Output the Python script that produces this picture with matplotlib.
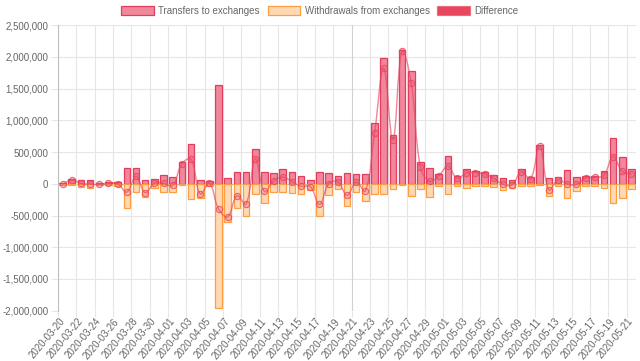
import numpy as np
import matplotlib.pyplot as plt
import pandas as pd
from matplotlib.path import Path
from matplotlib.patches import PathPatch, Patch
from matplotlib.ticker import FuncFormatter

plt.rcParams['font.family'] = ['Liberation Sans', 'DejaVu Sans']

# daily categories
dates = pd.date_range('2020-03-20', '2020-05-21').strftime('%Y-%m-%d').tolist()

transfers = [15000, 80000, 55000, 55000, 15000, 25000, 35000, 245000, 245000, 63000,
             79000, 135000, 105000, 340000, 625000, 60000, 50000, 1565000, 85000, 190000,
             180000, 548000, 180000, 165000, 235000, 180000, 120000, 60000, 190000, 165000,
             120000, 165000, 150000, 160000, 960000, 1980000, 775000, 2110000, 1775000, 345000,
             250000, 160000, 435000, 125000, 230000, 205000, 185000, 140000, 95000, 55000,
             230000, 115000, 615000, 90000, 100000, 220000, 105000, 130000, 130000, 205000,
             730000, 420000, 235000]

withdrawals = [-20000, -20000, -50000, -60000, -25000, -20000, -35000, -375000, -125000, -205000,
               -68000, -130000, -130000, -25000, -240000, -220000, -40000, -1960000, -605000, -380000,
               -500000, -158000, -300000, -125000, -130000, -145000, -160000, -105000, -515000, -170000,
               -85000, -345000, -125000, -275000, -165000, -160000, -80000, -20000, -185000, -80000,
               -210000, -40000, -155000, -40000, -60000, -30000, -30000, -50000, -105000, -70000,
               -40000, -40000, -15000, -185000, -40000, -225000, -115000, -40000, -30000, -70000,
               -300000, -225000, -85000]

difference = [-5000, 60000, 5000, -5000, -10000, 5000, 0, -130000, 120000, -140000,
              10000, 5000, -25000, 315000, 385000, -160000, 10000, -395000, -520000, -190000,
              -320000, 390000, -120000, 40000, 105000, 35000, -40000, -45000, -325000, -5000,
              35000, -180000, 25000, -115000, 795000, 1820000, 695000, 2090000, 1590000, 265000,
              40000, 125000, 280000, 85000, 170000, 175000, 155000, 90000, -10000, -15000,
              190000, 75000, 600000, -95000, 60000, -5000, -10000, 90000, 100000, 135000,
              430000, 195000, 150000]

pink_face = (0.94, 0.53, 0.61)
pink_edge = (0.89, 0.24, 0.37)
orange_face = (1.0, 0.85, 0.70)
orange_edge = (1.0, 0.62, 0.25)
diff_col = (0.91, 0.27, 0.37)

fig = plt.figure(figsize=(6.4, 3.61), dpi=100)
ax = fig.add_axes([58 / 640, 1 - 310.6 / 361, 578 / 640, 285.3 / 361])
x = np.arange(len(dates))
ax.set_xlim(-0.5, len(dates) - 0.5)
ax.set_ylim(-2000000, 2500000)

# grid
for v in range(-2000000, 2500001, 500000):
    ax.axhline(v, color='#bfbfbf' if v == 0 else '#e6e6e6', lw=0.8, zorder=0)
for i in range(0, len(dates), 2):
    ax.axvline(i - 0.5, color='#d0d0d0' if i == 32 else '#e6e6e6', lw=0.8, zorder=0)

for s in ['top', 'right', 'bottom']:
    ax.spines[s].set_visible(False)
ax.spines['left'].set_color('#bfbfbf')
ax.spines['left'].set_linewidth(0.8)

ax.bar(x, transfers, width=0.72, color=pink_face, edgecolor=pink_edge, linewidth=0.9, zorder=2)
ax.bar(x, withdrawals, width=0.72, color=orange_face, edgecolor=orange_edge, linewidth=0.9, zorder=2)

# smooth line like chart.js (tension 0.4), computed in pixel space
pts = ax.transData.transform(np.column_stack([x, difference]))
n = len(pts)
cp_prev = np.zeros_like(pts)
cp_next = np.zeros_like(pts)
for i in range(n):
    prev = pts[max(i - 1, 0)]
    cur = pts[i]
    nxt = pts[min(i + 1, n - 1)]
    d01 = np.hypot(*(cur - prev))
    d12 = np.hypot(*(nxt - cur))
    tot = d01 + d12
    s01 = d01 / tot if tot else 0
    s12 = d12 / tot if tot else 0
    cp_prev[i] = cur - 0.4 * s01 * (nxt - prev)
    cp_next[i] = cur + 0.4 * s12 * (nxt - prev)
verts = [pts[0]]
codes = [Path.MOVETO]
for i in range(n - 1):
    verts += [cp_next[i], cp_prev[i + 1], pts[i + 1]]
    codes += [Path.CURVE4] * 3
verts = ax.transData.inverted().transform(np.array(verts))
ax.add_patch(PathPatch(Path(verts, codes), fill=False, edgecolor=diff_col + (0.65,), lw=1.0, zorder=3))
ax.plot(x, difference, 'o', ms=4.5, mfc=diff_col + (0.25,), mec=diff_col + (0.8,), mew=0.8, zorder=4)

# ticks
ax.set_yticks(range(-2000000, 2500001, 500000))
ax.yaxis.set_major_formatter(FuncFormatter(lambda v, p: f'{v:,.0f}'))
ax.tick_params(axis='y', length=5, color='#e6e6e6', labelsize=7, labelcolor='#666666', pad=2)

ax.set_xticks(np.arange(0, len(dates), 2) - 0.5)
ax.set_xticklabels([])
ax.tick_params(axis='x', which='major', length=4, color='#e6e6e6')
ax.set_xticks(np.arange(0, len(dates), 2), minor=True)
ax.set_xticklabels(dates[::2], minor=True, rotation=50, ha='right', va='center',
                   rotation_mode='anchor')
ax.tick_params(axis='x', which='minor', length=0, labelsize=7, labelcolor='#666666', pad=6.5)

handles = [Patch(facecolor=pink_face, edgecolor=pink_edge, lw=0.9),
           Patch(facecolor=orange_face, edgecolor=orange_edge, lw=0.9),
           Patch(facecolor=diff_col, edgecolor=diff_col + (0.6,), lw=0.9)]
fig.legend(handles, ['Transfers to exchanges', 'Withdrawals from exchanges', 'Difference'],
           loc='center', bbox_to_anchor=(0.5, 1 - 11 / 361), ncol=3, frameon=False,
           fontsize=7, labelcolor='#666666', handlelength=3.3, handleheight=1.1,
           handletextpad=0.5, columnspacing=0.8, borderpad=0)

fig.savefig('out.png', dpi=100)
